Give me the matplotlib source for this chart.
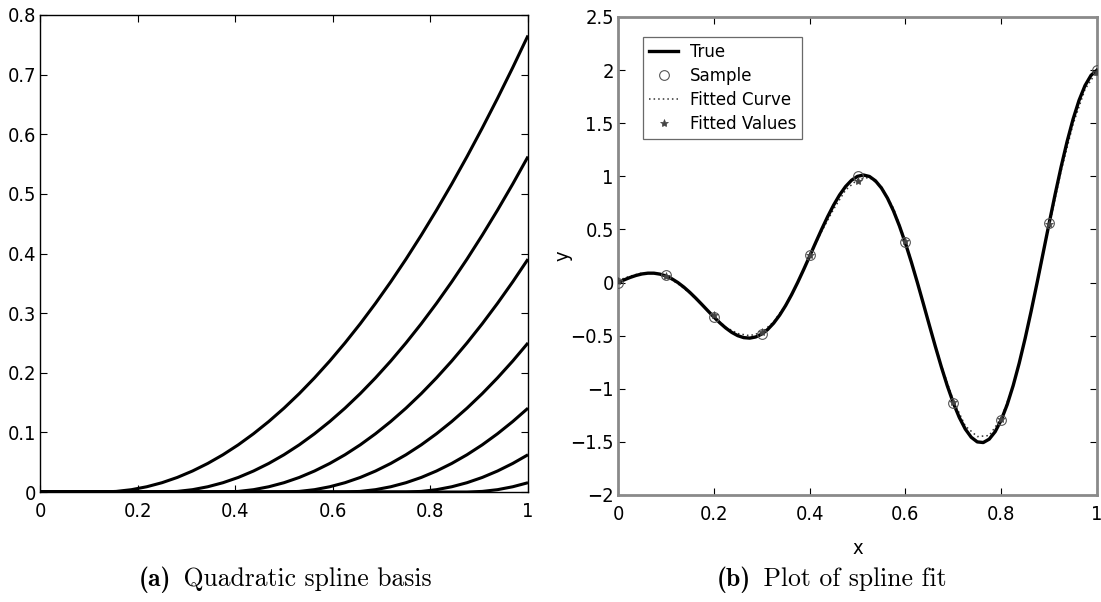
import numpy as np
import matplotlib.pyplot as plt
from matplotlib import font_manager
from matplotlib.font_manager import FontProperties

plt.rcParams['font.family'] = ['Liberation Sans', 'DejaVu Sans']

# pick a narrow sans for the MATLAB-style labels, if one is around
paths = [f.fname for f in font_manager.fontManager.ttflist]
narrow_path = None
scale = 0.88
for key, sc in [('LiberationSansNarrow-Regular', 1.0), ('DejaVuSansCondensed.ttf', 0.9)]:
    hits = [p for p in paths if key in p]
    if hits:
        narrow_path, scale = hits[0], sc
        break

def lab_font(size):
    if narrow_path:
        return FontProperties(fname=narrow_path, size=size * scale)
    return FontProperties(family='Liberation Sans', size=size * scale)

# ---- (a) quadratic spline basis: knots and the shared (x - knot)^2 tail
knots = [0.125, 0.25, 0.375, 0.5, 0.625, 0.75, 0.875]
basis_x = np.linspace(0, 1, 33)
basis_tail = [0, 0.00098, 0.0039, 0.0088, 0.0156, 0.0244, 0.0352, 0.0479,
              0.0625, 0.0791, 0.0977, 0.1182, 0.1406, 0.1650, 0.1914, 0.2197,
              0.25, 0.2822, 0.3164, 0.3525, 0.3906, 0.4307, 0.4727, 0.5166,
              0.5625, 0.6104, 0.6602, 0.7119, 0.7656]

# ---- (b) spline fit
true_x = np.linspace(0, 1, 81)
true_y = [0, 0.0247, 0.0476, 0.0668, 0.0809, 0.0884, 0.0882, 0.0794, 0.0618,
          0.0352, 0, -0.0430, -0.0927, -0.1475, -0.2057, -0.2652, -0.3236,
          -0.3787, -0.4280, -0.4692, -0.5, -0.5185, -0.5231, -0.5123, -0.4854,
          -0.4419, -0.3821, -0.3064, -0.2163, -0.1134, 0, 0.1212, 0.2472,
          0.3745, 0.4996, 0.6187, 0.7281, 0.8242, 0.9035, 0.9630, 1.0, 1.0124,
          0.9986, 0.9578, 0.8899, 0.7955, 0.6760, 0.5334, 0.3708, 0.1916, 0,
          -0.1995, -0.4017, -0.6015, -0.7935, -0.9723, -1.1326, -1.2697,
          -1.3790, -1.4568, -1.5, -1.5062, -1.4741, -1.4033, -1.2944, -1.1491,
          -0.9699, -0.7604, -0.5253, -0.2698, 0, 0.2777, 0.5562, 0.8285,
          1.0874, 1.3258, 1.5371, 1.7152, 1.8546, 1.9507, 2.0]

fit_x = np.linspace(0, 1, 41)
fit_y = [0.02, 0.06, 0.09, 0.09, 0.06, -0.01, -0.10, -0.21, -0.32, -0.42,
         -0.48, -0.50, -0.47, -0.37, -0.21, 0.0, 0.25, 0.48, 0.69, 0.87, 0.97,
         0.99, 0.90, 0.70, 0.39, 0.01, -0.40, -0.78, -1.11, -1.35, -1.45,
         -1.44, -1.28, -0.97, -0.53, -0.01, 0.53, 1.05, 1.49, 1.82, 1.99]

sample_x = [0, 0.1, 0.2, 0.3, 0.4, 0.5, 0.6, 0.7, 0.8, 0.9, 1.0]
sample_y = [0.0, 0.07, -0.32, -0.48, 0.26, 1.0, 0.38, -1.13, -1.29, 0.56, 2.0]
fitted_vals = [0.01, 0.06, -0.31, -0.47, 0.26, 0.96, 0.39, -1.12, -1.28, 0.55, 1.98]

W, H = 1101, 602
fig = plt.figure(figsize=(W / 100, H / 100), dpi=100)

def px_axes(l, t, r, b):
    return fig.add_axes([l / W, 1 - b / H, (r - l) / W, (b - t) / H])

def matlab_style(ax, spine_color):
    ax.tick_params(direction='in', top=True, right=True, length=5, width=0.8,
                   colors='black')
    ax.tick_params(axis='x', pad=7)
    ax.tick_params(axis='y', pad=3)
    for lab in ax.get_xticklabels() + ax.get_yticklabels():
        lab.set_fontproperties(lab_font(16))
    for s in ax.spines.values():
        s.set_color(spine_color)

# (a)
ax1 = px_axes(40, 15, 528, 492)
for k in knots:
    s = int(round(k * 32))
    y = [0] * s + basis_tail[:33 - s]
    ax1.plot(basis_x, y, color='black', lw=2.2, solid_capstyle='butt')
ax1.set_xlim(0, 1)
ax1.set_ylim(0, 0.8)
ax1.set_xticks([0, 0.2, 0.4, 0.6, 0.8, 1])
ax1.set_xticklabels(['0', '0.2', '0.4', '0.6', '0.8', '1'])
ax1.set_yticks(np.arange(0, 0.81, 0.1))
ax1.set_yticklabels(['0', '0.1', '0.2', '0.3', '0.4', '0.5', '0.6', '0.7', '0.8'])
matlab_style(ax1, 'black')
for s in ax1.spines.values():
    s.set_linewidth(1.0)

# (b)
ax2 = px_axes(618, 17, 1097, 495)
ax2.plot(true_x, true_y, color='black', lw=2.4, label='True', zorder=3)
ax2.plot(sample_x, sample_y, 'o', mfc='none', mec='#555555', ms=7, mew=0.8,
         label='Sample', zorder=4)
ax2.plot(fit_x, fit_y, color='#333333', lw=1.1, ls=(0, (1, 2)),
         label='Fitted Curve', zorder=2)
ax2.plot(sample_x, fitted_vals, '*', color='#444444', ms=6, mew=0.5,
         label='Fitted Values', zorder=4)
ax2.set_xlim(0, 1)
ax2.set_ylim(-2, 2.5)
ax2.set_xticks([0, 0.2, 0.4, 0.6, 0.8, 1])
ax2.set_xticklabels(['0', '0.2', '0.4', '0.6', '0.8', '1'])
ax2.set_yticks(np.arange(-2, 2.51, 0.5))
ax2.set_yticklabels(['\u22122', '\u22121.5', '\u22121', '\u22120.5', '0',
                     '0.5', '1', '1.5', '2', '2.5'])
matlab_style(ax2, '#8a8a8a')
for s in ax2.spines.values():
    s.set_linewidth(2.0)
ax2.set_xlabel('x', fontproperties=lab_font(16), labelpad=11)
ax2.set_ylabel('y', fontproperties=lab_font(16))
ax2.yaxis.set_label_coords(-0.094, 0.5)

leg = ax2.legend(loc='upper left', bbox_to_anchor=(0.052, 0.958),
                 borderaxespad=0, prop=lab_font(14.8), handlelength=1.6,
                 handletextpad=0.6, labelspacing=0.33, borderpad=0.32,
                 fancybox=False, frameon=True)
leg.get_frame().set_edgecolor('#444444')
leg.get_frame().set_linewidth(0.9)

# captions
def caption(xc, tag, text):
    t1 = fig.text(0, 0, tag, fontfamily='cmb10', fontsize=18.5)
    t2 = fig.text(0, 0, ' ' + text, fontfamily='cmr10', fontsize=18.5)
    fig.canvas.draw()
    r = fig.canvas.get_renderer()
    w1 = t1.get_window_extent(r).width
    w2 = t2.get_window_extent(r).width
    x0 = xc - (w1 + 4 + w2) / 2
    y0 = H - 586
    t1.set_position((x0 / W, y0 / H))
    t2.set_position(((x0 + w1 + 4) / W, y0 / H))

caption(285, '(a)', 'Quadratic spline basis')
caption(832, '(b)', 'Plot of spline fit')

fig.savefig('out.png', dpi=100)
